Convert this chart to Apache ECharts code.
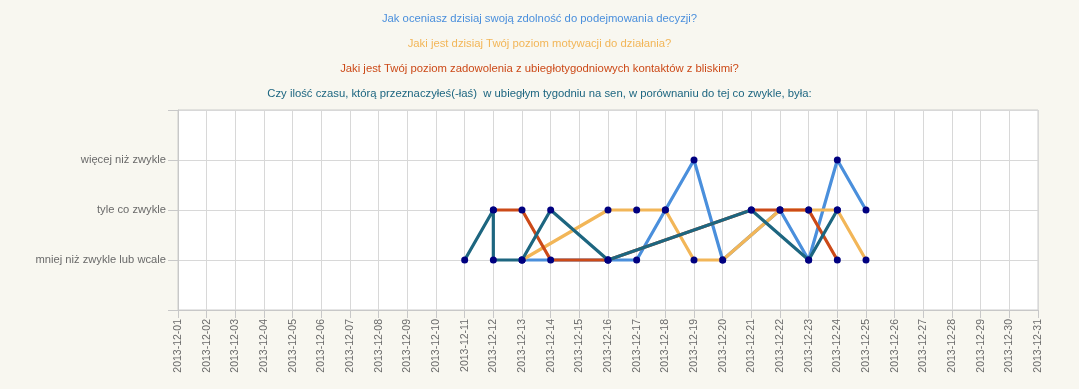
<!DOCTYPE html>
<html>
<head>
<meta charset="utf-8">
<script src="https://cdn.jsdelivr.net/npm/echarts@6/dist/echarts.min.js"></script>
<style>
html,body{margin:0;padding:0;background:#f8f7f0;}
#c{width:1079px;height:389px;}
</style>
</head>
<body>
<div id="c"></div>
<script>
var dates = ['2013-12-01','2013-12-02','2013-12-03','2013-12-04','2013-12-05','2013-12-06','2013-12-07','2013-12-08','2013-12-09','2013-12-10','2013-12-11','2013-12-12','2013-12-13','2013-12-14','2013-12-15','2013-12-16','2013-12-17','2013-12-18','2013-12-19','2013-12-20','2013-12-21','2013-12-22','2013-12-23','2013-12-24','2013-12-25','2013-12-26','2013-12-27','2013-12-28','2013-12-29','2013-12-30','2013-12-31'];
var yLabels = ['', 'mniej niż zwykle lub wcale', 'tyle co zwykle', 'więcej niż zwykle', ''];
var seriesNames = [
  'Jak oceniasz dzisiaj swoją zdolność do podejmowania decyzji?',
  'Jaki jest dzisiaj Twój poziom motywacji do działania?',
  'Jaki jest Twój poziom zadowolenia z ubiegłotygodniowych kontaktów z bliskimi?',
  'Czy ilość czasu, którą przeznaczyłeś(-łaś)  w ubiegłym tygodniu na sen, w porównaniu do tej co zwykle, była:'
];
var decyzje = [['2013-12-13',1],['2013-12-16',1],['2013-12-17',1],['2013-12-18',2],['2013-12-19',3],['2013-12-20',1],['2013-12-22',2],['2013-12-23',1],['2013-12-24',3],['2013-12-25',2]];
var motywacja = [['2013-12-13',1],['2013-12-16',2],['2013-12-17',2],['2013-12-18',2],['2013-12-19',1],['2013-12-20',1],['2013-12-22',2],['2013-12-23',2],['2013-12-24',2],['2013-12-25',1]];
var kontakty = [['2013-12-12',2],['2013-12-13',2],['2013-12-14',1],['2013-12-16',1],['2013-12-21',2],['2013-12-22',2],['2013-12-23',2],['2013-12-24',1]];
var sen = [['2013-12-11',1],['2013-12-12',2],['2013-12-12',1],['2013-12-13',1],['2013-12-14',2],['2013-12-16',1],['2013-12-21',2],['2013-12-23',1],['2013-12-24',2]];
var colors = ['#4a8fdc','#f2b658','#cc4a18','#1d6680'];
var datasets = [decyzje, motywacja, kontakty, sen];
var titleTops = [8, 33, 58, 83];

var chart = echarts.init(document.getElementById('c'));
var font = 'Liberation Sans, Arial, sans-serif';
chart.setOption({
  backgroundColor: '#f8f7f0',
  animation: false,
  title: seriesNames.map(function(n, i){
    return {text: n, left: 'center', top: titleTops[i],
      textStyle: {color: colors[i], fontSize: 11.3, fontWeight: 'normal', fontFamily: font}};
  }),
  grid: {left: 178, right: 41, top: 110, bottom: 79, show: true, backgroundColor: '#ffffff', borderColor: '#cccccc', borderWidth: 1},
  xAxis: {
    type: 'category', data: dates, boundaryGap: false,
    axisLine: {lineStyle: {color: '#c8c8c8'}},
    axisTick: {show: true, length: 8, interval: 0, lineStyle: {color: '#c8c8c8'}},
    axisLabel: {rotate: 90, interval: 0, color: '#6a6a6a', fontSize: 10.5, fontFamily: font, margin: 9},
    splitLine: {show: true, interval: 0, lineStyle: {color: '#d8d8d8'}}
  },
  yAxis: {
    type: 'value', min: 0, max: 4, interval: 1,
    axisLine: {show: true, lineStyle: {color: '#c8c8c8'}},
    axisTick: {show: true, length: 10, lineStyle: {color: '#c8c8c8'}},
    axisLabel: {color: '#6a6a6a', fontSize: 11.2, fontFamily: font, margin: 12,
      formatter: function(v){ return yLabels[v] || ''; }},
    splitLine: {show: true, lineStyle: {color: '#d8d8d8'}}
  },
  series: datasets.map(function(d, i){
    return {
      name: seriesNames[i], type: 'line', data: d,
      symbol: 'circle', symbolSize: 7, showSymbol: true,
      lineStyle: {color: colors[i], width: 3.2},
      itemStyle: {color: '#000080'},
      z: 2 + i
    };
  })
});
</script>
</body>
</html>
